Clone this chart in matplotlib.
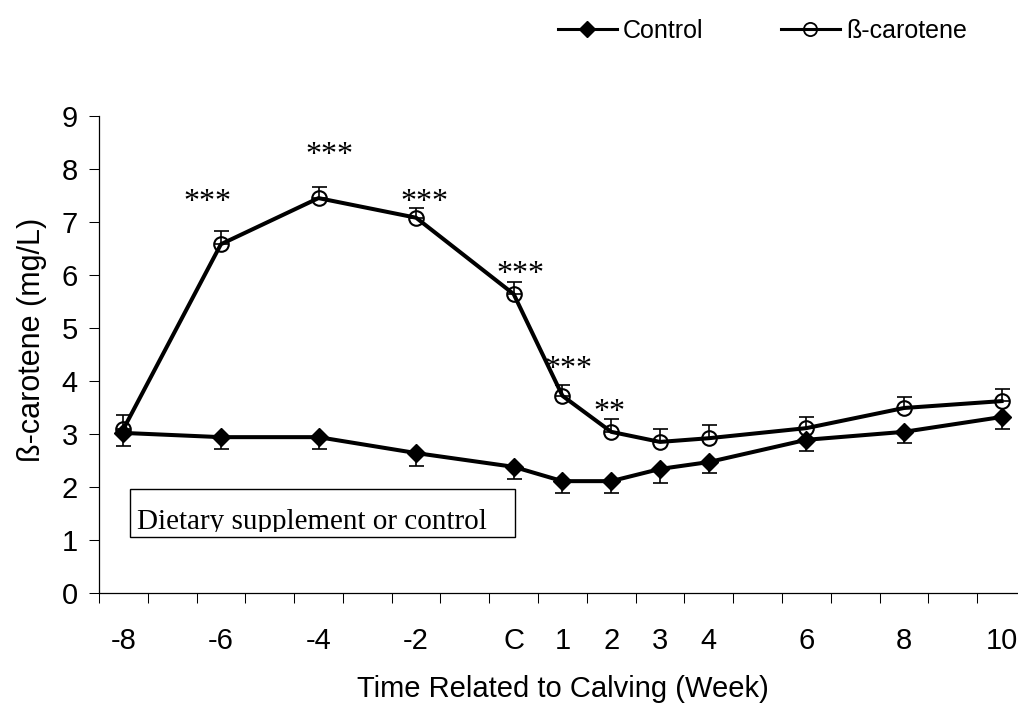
import numpy as np
import matplotlib
matplotlib.use('Agg')
import matplotlib.pyplot as plt
from matplotlib.lines import Line2D
from matplotlib.patches import Rectangle
from matplotlib.transforms import Bbox, TransformedBbox

# Tuần so với ngày đẻ (C = 0)
weeks = [-8, -6, -4, -2, 0, 1, 2, 3, 4, 6, 8, 10]
week_labels = ['-8', '-6', '-4', '-2', 'C', '1', '2', '3', '4', '6', '8', '10']

# Nhóm đối chứng
control_mean = [3.02, 2.94, 2.94, 2.64, 2.38, 2.11, 2.11, 2.34, 2.47, 2.89, 3.04, 3.32]
control_se = [0.25, 0.22, 0.22, 0.24, 0.23, 0.22, 0.22, 0.26, 0.21, 0.21, 0.21, 0.23]

# Nhóm bổ sung ß-carotene
beta_mean = [3.09, 6.58, 7.45, 7.08, 5.64, 3.72, 3.04, 2.85, 2.92, 3.11, 3.49, 3.62]
beta_se = [0.27, 0.25, 0.21, 0.19, 0.23, 0.20, 0.24, 0.24, 0.25, 0.21, 0.21, 0.23]

# Dấu sao ý nghĩa thống kê
star_weeks = [-6, -4, -2, 0, 1, 2]
star_text = ['***', '***', '***', '***', '***', '**']
star_dx = [-0.27, 0.23, 0.18, 0.14, 0.12, -0.03]
star_y = [7.22, 8.12, 7.22, 5.86, 4.07, 3.27]

plt.rcParams['font.family'] = ['Liberation Sans', 'DejaVu Sans']

fig = plt.figure(figsize=(10.18, 7.04), dpi=100)
ax = fig.add_axes([0.0972, 0.1577, 0.9106, 0.6776])

lw = 2.9
# Đường và điểm
ax.plot(weeks, control_mean, color='black', lw=lw, marker='D', ms=9.4,
        mfc='black', mec='black', zorder=3)
ax.plot(weeks, beta_mean, color='black', lw=lw, marker='o', ms=10.5,
        mfc='none', mec='black', mew=1.5, zorder=3)

# Thanh sai số (một phía)
ax.errorbar(weeks, control_mean, yerr=[control_se, [0] * len(weeks)], fmt='none',
            ecolor='black', elinewidth=1.2, capsize=5.4, capthick=1.2, zorder=2)
ax.errorbar(weeks, beta_mean, yerr=[[0] * len(weeks), beta_se], fmt='none',
            ecolor='black', elinewidth=1.2, capsize=5.4, capthick=1.2, zorder=2)

for w, t, dx, y in zip(star_weeks, star_text, star_dx, star_y):
    ax.text(w + dx, y, t, ha='center', va='baseline', fontsize=23,
            family='Liberation Serif')

# Khung chú thích thời gian bổ sung
ax.add_patch(Rectangle((0.0334, 0.117), 0.4155, 0.101, transform=ax.transAxes,
                       fill=False, ec='black', lw=1.0, zorder=4))
txt = ax.text(0.041, 0.134, 'Dietary supplement or control', transform=ax.transAxes,
              fontsize=21, family='Liberation Serif', ha='left', va='baseline',
              clip_on=True, zorder=4)
txt.set_clip_box(TransformedBbox(Bbox([[0.0334, 0.127], [0.449, 0.218]]), ax.transAxes))

# Trục
ax.set_xlim(-8.5, 10.5)
ax.set_ylim(0, 9)
ax.set_yticks(range(0, 10))
ax.set_xticks(weeks)
ax.set_xticklabels(week_labels)
ax.set_xticks(np.arange(-8.5, 10.6, 1), minor=True)
ax.tick_params(axis='x', which='major', length=0, pad=24.5, labelsize=21)
ax.tick_params(axis='x', which='minor', length=7.2, width=0.75, direction='out')
ax.tick_params(axis='y', length=7.2, width=0.75, pad=8, labelsize=21)
for s in ['top', 'right']:
    ax.spines[s].set_visible(False)
for s in ['left', 'bottom']:
    ax.spines[s].set_linewidth(0.9)

ax.set_xlabel('Time Related to Calving (Week)', fontsize=21, va='center')
ax.xaxis.set_label_coords(0.5, -0.201)
ax.set_ylabel('ß-carotene (mg/L)', fontsize=22, va='center')
ax.yaxis.set_label_coords(-0.072, 0.53)

# Chú giải
handles = [Line2D([], [], color='black', lw=2.2, marker='D', ms=8, mfc='black'),
           Line2D([], [], color='black', lw=2.2, marker='o', ms=9.5, mfc='none', mew=1.3)]
fig.legend(handles, ['Control', 'ß-carotene'], loc='center left',
           bbox_to_anchor=(0.548, 0.956), ncol=2, frameon=False, fontsize=18,
           handlelength=2.36, handletextpad=0.24, columnspacing=3.1,
           borderpad=0, borderaxespad=0)

fig.savefig('out.png', dpi=100)
